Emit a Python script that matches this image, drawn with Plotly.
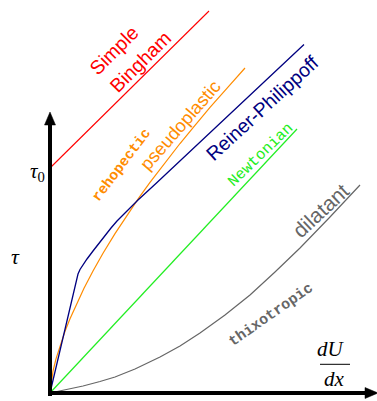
import plotly.graph_objects as go

# ---- data (arbitrary units: shear rate dU/dx vs shear stress tau) ----
bingham_x = [0, 159]
bingham_y = [225, 382]

pseudo_x = [0, 3, 6, 10, 15, 20, 27, 34, 43, 53, 65, 77, 89, 100, 115, 130, 145, 160, 178, 195]
pseudo_y = [0, 21.8, 34.1, 47.5, 61.7, 74.3, 90.3, 104.8, 122.0, 139.7, 159.4, 177.8,
            195.3, 210.6, 230.5, 249.5, 267.7, 285.7, 305.8, 325]

reiner_x = [0, 28, 30, 33, 37, 43, 49, 55, 61, 67, 77, 88, 107, 254]
reiner_y = [0, 119, 123.5, 128.5, 134, 142, 150, 157.5, 165, 172, 182.5, 193, 210.5, 348.5]

newton_x = [0, 247]
newton_y = [0, 264]

dilatant_x = [0, 15, 33, 50, 65, 85, 110, 130, 150, 175, 200, 225, 250, 280, 310]
dilatant_y = [0, 3, 7, 11.5, 16, 24, 36, 47, 60, 78, 98, 121, 145, 176, 208]

ORANGE = "#ff8c00"
NAVY = "#000080"
GREEN = "#22ee22"
GRAY = "#666666"

fig = go.Figure()
for xs, ys, c, w in [
    (bingham_x, bingham_y, "red", 1.1),
    (pseudo_x, pseudo_y, ORANGE, 1.2),
    (reiner_x, reiner_y, NAVY, 1.3),
    (newton_x, newton_y, GREEN, 1.2),
    (dilatant_x, dilatant_y, GRAY, 1.2),
]:
    fig.add_trace(go.Scatter(x=xs, y=ys, mode="lines",
                             line=dict(color=c, width=w),
                             hoverinfo="skip", showlegend=False))

SANS = "Liberation Sans, Arial, sans-serif"
MONO = "Liberation Mono, Courier New, monospace"
SERIF = "Liberation Serif, Times New Roman, serif"

labels = [
    ("Simple", 64, 343, -45, SANS, 19.5, "red"),
    ("Bingham", 90, 331, -45, SANS, 19.5, "red"),
    ("<b>rehopectic</b>", 71.7, 228, -53, MONO, 14.5, ORANGE),
    ("pseudoplastic", 129.5, 268, -49, SANS, 18.3, ORANGE),
    ("Reiner-Philippoff", 212, 285, -42.5, SANS, 19.5, NAVY),
    ("Newtonian", 210.8, 238, -44, MONO, 15.5, GREEN),
    ("dilatant", 270.8, 182.2, -43, SANS, 21, GRAY),
    ("<b>thixotropic</b>", 221, 77.2, -35, MONO, 15, GRAY),
    ("<i>τ</i><sub>0</sub>", -12.5, 221, 0, SERIF, 21, "black"),
    ("<i>τ</i>", -35, 137, 0, SERIF, 22, "black"),
    ("<i>dU</i>", 281, 44, 0, SERIF, 21, "black"),
    ("<i>dx</i>", 284, 14, 0, SERIF, 21, "black"),
]
for t, x, y, ang, fam, size, col in labels:
    fig.add_annotation(x=x, y=y, text=t, showarrow=False, textangle=ang,
                       xanchor="center", yanchor="middle",
                       font=dict(family=fam, size=size, color=col))

# fraction bar of dU/dx
fig.add_shape(type="line", x0=270, x1=300, y0=28.7, y1=28.7,
              line=dict(color="black", width=1))

# axes with arrow heads (decoration)
fig.add_shape(type="line", x0=0, x1=0, y0=-3, y1=270,
              line=dict(color="black", width=4))
fig.add_shape(type="path", path="M -5.5 268 L 5.5 268 L 0 281 Z",
              fillcolor="black", line=dict(color="black", width=0.5))
fig.add_shape(type="line", x0=-2, x1=318, y0=0, y1=0,
              line=dict(color="black", width=4))
fig.add_shape(type="path", path="M 315 5.5 L 315 -5.5 L 328 0 Z",
              fillcolor="black", line=dict(color="black", width=0.5))

fig.update_layout(
    width=377, height=401, autosize=False,
    margin=dict(l=0, r=0, t=0, b=0),
    paper_bgcolor="white", plot_bgcolor="white",
    xaxis=dict(range=[-50, 327], visible=False, fixedrange=True),
    yaxis=dict(range=[-8, 393], visible=False, fixedrange=True),
)

fig.write_html("out.html", config={"displayModeBar": False},
               post_script="document.body.style.margin='0';")
